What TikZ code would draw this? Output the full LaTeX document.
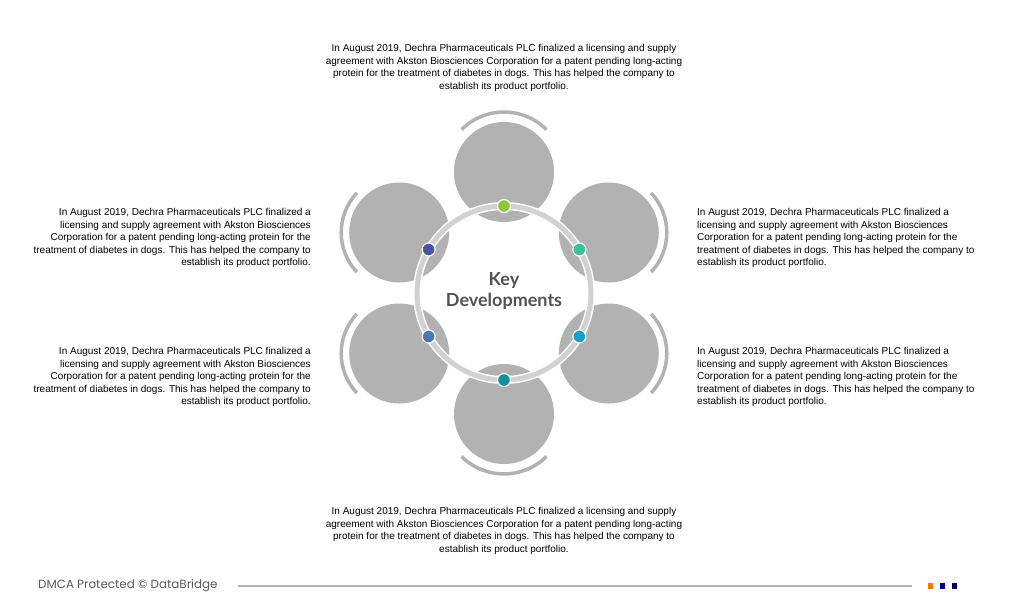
\documentclass[tikz,border=0pt]{standalone}
\usetikzlibrary{calc}
\usepackage{fontspec}
\setmainfont{Liberation Sans}
\newfontfamily\latofont{Lato}
\newfontfamily\popfont{Poppins}
\begin{document}
\begin{tikzpicture}[x=1pt,y=-1pt,
  big/.style={fill=black!30,draw=none},
  arc/.style={draw=black!30,line width=3.5pt},
  dot/.style={circle,draw=white,line width=1.2pt,minimum size=13pt,inner sep=0pt},
  txt/.style={font=\fontsize{10}{12.6}\selectfont,inner sep=0pt,text=black}]
\useasboundingbox (0,0) rectangle (1009,600);
\coordinate (c) at (504,293);
% big circles
\foreach \a/\n in {90/t,150/ul,30/ur,210/ll,-30/lr,270/b}{
  \path (c) ++(\a:121 and -121) coordinate (\n);
}
\foreach \n in {t,ul,ur,ll,lr,b}{\fill[big] (\n) circle (50);}
% outer arcs
\draw[arc] (t) ++(45:60 and -60) arc[start angle=45,end angle=135,x radius=60,y radius=-60];
\draw[arc] (b) ++(-45:60 and -60) arc[start angle=-45,end angle=-135,x radius=60,y radius=-60];
\foreach \n in {ul,ll}{\draw[arc] (\n) ++(137:58 and -58) arc[start angle=137,end angle=223,x radius=58,y radius=-58];}
\foreach \n in {ur,lr}{\draw[arc] (\n) ++(43:58 and -58) arc[start angle=43,end angle=-43,x radius=58,y radius=-58];}
% ring
\draw[white,line width=8pt] (c) circle (87);
\draw[black!18,line width=5pt] (c) circle (87);
% dots
\foreach \a/\col/\n in {90/8DC63F/d1,30/3DBF9A/d2,-30/1A9FC6/d3,270/168F9C/d4,210/4A78B0/d5,150/4A55A2/d6}{
  \definecolor{tmp}{HTML}{\col}
  \node[dot,fill=tmp] (\n) at ($(c)+(\a:87 and -87)$) {};
}
\node[font=\latofont\bfseries\fontsize{18}{21}\selectfont,text=black!68,align=center] (key) at (504,291) {Key\\Developments};
% texts
\node[txt,align=center,anchor=north] (tt) at (504,44) {In August 2019, Dechra Pharmaceuticals PLC finalized a licensing and supply\\agreement with Akston Biosciences Corporation for a patent pending long-acting\\protein for the treatment of diabetes in dogs. This has helped the company to\\establish its product portfolio.};
\node[txt,align=center,anchor=north] (bt) at (504,507) {In August 2019, Dechra Pharmaceuticals PLC finalized a licensing and supply\\agreement with Akston Biosciences Corporation for a patent pending long-acting\\protein for the treatment of diabetes in dogs. This has helped the company to\\establish its product portfolio.};
\node[txt,align=right,anchor=north east] (lt1) at (311,208) {In August 2019, Dechra Pharmaceuticals PLC finalized a\\licensing and supply agreement with Akston Biosciences\\Corporation for a patent pending long-acting protein for the\\treatment of diabetes in dogs. This has helped the company to\\establish its product portfolio.};
\node[txt,align=right,anchor=north east] (lt2) at (311,347) {In August 2019, Dechra Pharmaceuticals PLC finalized a\\licensing and supply agreement with Akston Biosciences\\Corporation for a patent pending long-acting protein for the\\treatment of diabetes in dogs. This has helped the company to\\establish its product portfolio.};
\node[txt,align=left,anchor=north west] (rt1) at (697,208) {In August 2019, Dechra Pharmaceuticals PLC finalized a\\licensing and supply agreement with Akston Biosciences\\Corporation for a patent pending long-acting protein for the\\treatment of diabetes in dogs. This has helped the company to\\establish its product portfolio.};
\node[txt,align=left,anchor=north west] (rt2) at (697,347) {In August 2019, Dechra Pharmaceuticals PLC finalized a\\licensing and supply agreement with Akston Biosciences\\Corporation for a patent pending long-acting protein for the\\treatment of diabetes in dogs. This has helped the company to\\establish its product portfolio.};
% footer
\node[font=\popfont\fontsize{11.9}{12}\selectfont,text=black!65,anchor=west,inner sep=0pt] (dm) at (38,586) {DMCA Protected © DataBridge};
\draw[black!30,line width=2.5pt] (238,586) -- (912,586);
\fill[orange!90!red] (928,583) rectangle (933,589);
\fill[blue!50!black] (940,583) rectangle (945,589);
\fill[blue!35!black] (952,583) rectangle (957,589);
\end{tikzpicture}
\end{document}
